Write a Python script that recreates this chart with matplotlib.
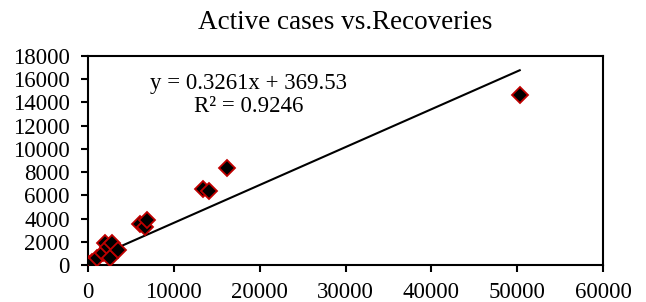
import matplotlib
matplotlib.use("Agg")
import matplotlib.pyplot as plt
import numpy as np

plt.rcParams['font.family'] = ['Liberation Serif', 'DejaVu Serif']

recoveries = [0, 150, 430, 1010, 1780, 1980, 2370, 2560, 2760, 3530,
              6060, 6640, 6910, 13360, 14100, 16160, 50300]
active = [0, 50, 290, 570, 1000, 1920, 1580, 570, 1920, 1290,
          3530, 3240, 3870, 6520, 6400, 8330, 14600]
slope = 0.3261
intercept = 369.53
x_ticks = [0, 10000, 20000, 30000, 40000, 50000, 60000]
y_ticks = list(range(0, 18001, 2000))

fig = plt.figure(figsize=(6.46, 3.02), dpi=100)
ax = fig.add_axes([88/646, 1-265/302, (603-88)/646, (265-56)/302])

xl = np.array([min(recoveries), max(recoveries)])
ax.plot(xl, slope*xl + intercept, color='black', lw=1.5, zorder=2)
ax.plot(recoveries, active, linestyle='none', marker='D', markersize=8.5,
        markerfacecolor='black', markeredgecolor='#c00000', markeredgewidth=1.3, zorder=3)

ax.set_xlim(0, 60000)
ax.set_ylim(0, 18000)
ax.set_xticks(x_ticks)
ax.set_yticks(y_ticks)
ax.tick_params(labelsize=16.5, direction='out', length=5, width=1.5, colors='black')
ax.tick_params(axis='x', pad=7.5)
ax.tick_params(axis='y', pad=8)
for s in ax.spines.values():
    s.set_linewidth(1.5)
ax.set_title('Active cases vs.Recoveries', fontsize=19.5, pad=19.5)
ax.text(249/646, 1-95/302, 'y = 0.3261x + 369.53\nR² = 0.9246', transform=fig.transFigure,
        ha='center', va='center', fontsize=16.5, linespacing=1.15, multialignment='center')

fig.savefig('out.png', dpi=100)
